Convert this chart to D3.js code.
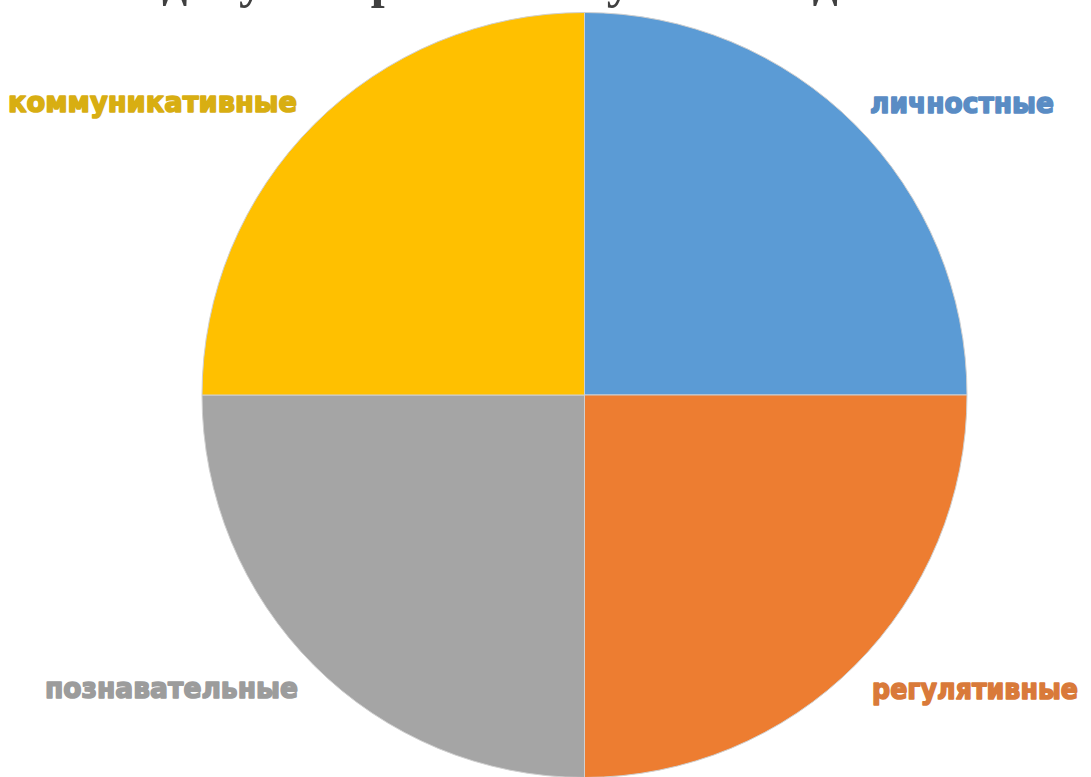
<!DOCTYPE html>
<html>
<head>
<meta charset="utf-8">
<script src="https://cdn.jsdelivr.net/npm/d3@7/dist/d3.min.js"></script>
<style>
  html, body { margin: 0; padding: 0; background: #fff; overflow: hidden; }
  svg { display: block; }
</style>
</head>
<body>
<svg id="chart" width="1091" height="777"></svg>
<script>
  // Chart data
  var categories = ['личностные', 'регулятивные', 'познавательные', 'коммуникативные'],
      values = [25, 25, 25, 25],
      sliceColors = ['#5b9bd5', '#ed7d31', '#a5a5a5', '#ffc000'],
      labelColors = ['#5a8cc4', '#d97a3a', '#9c9c9c', '#d8ae12'],
      titleText = 'Виды универсальных учебных действий';

  var cx = 584.5,
      cy = 395,
      radius = 382.5;

  var svg = d3.select('#chart');

  // Title, cut off at the top of the picture (only the descenders show)
  svg.append('text')
    .attr('x', 560)
    .attr('y', -3)
    .attr('text-anchor', 'middle')
    .style('font-family', '"Liberation Serif", serif')
    .style('font-weight', 'bold')
    .style('font-size', '50px')
    .style('fill', '#404040')
    .text(titleText);

  var pie = d3.pie()
    .sort(null)
    .value(function(d) { return d; });

  var arc = d3.arc()
    .innerRadius(0)
    .outerRadius(radius);

  var g = svg.append('g')
    .attr('transform', 'translate(' + cx + ',' + cy + ')');

  g.selectAll('path.slice')
    .data(pie(values))
    .enter()
    .append('path')
    .attr('class', 'slice')
    .attr('d', arc)
    .style('fill', function(d, i) { return sliceColors[i]; })
    .style('stroke', '#d0d0d0')
    .style('stroke-width', 1);

  // Label boxes: left edge, right edge and baseline
  var labelX0 = [870, 872, 45, 8],
      labelX1 = [1054, 1078, 298, 297],
      labelBaseline = [113, 699, 698, 112];

  svg.selectAll('text.label')
    .data(categories)
    .enter()
    .append('text')
    .attr('class', 'label')
    .attr('x', function(d, i) { return labelX0[i]; })
    .attr('y', function(d, i) { return labelBaseline[i]; })
    .attr('textLength', function(d, i) { return labelX1[i] - labelX0[i]; })
    .attr('lengthAdjust', 'spacingAndGlyphs')
    .style('font-family', '"DejaVu Sans", sans-serif')
    .style('font-weight', 'bold')
    .style('font-size', '28px')
    .style('fill', function(d, i) { return labelColors[i]; })
    .style('stroke', function(d, i) { return labelColors[i]; })
    .style('stroke-width', 1.6)
    .style('stroke-linejoin', 'round')
    .text(function(d) { return d; });
</script>
</body>
</html>
